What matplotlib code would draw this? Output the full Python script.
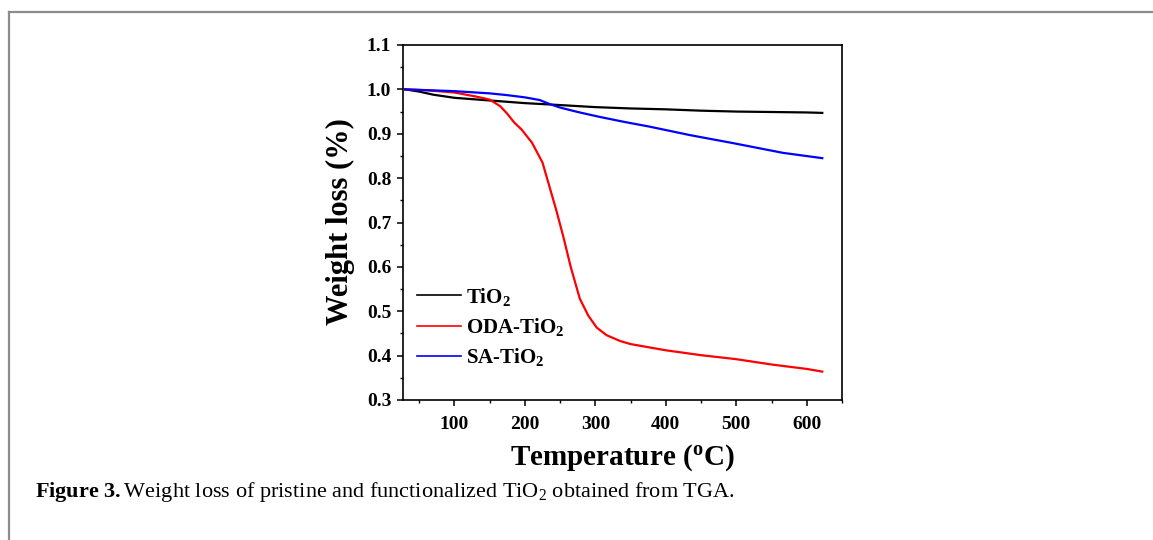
import matplotlib
matplotlib.use("Agg")
import matplotlib.pyplot as plt
from matplotlib.lines import Line2D
from matplotlib.ticker import MultipleLocator

plt.rcParams['font.family'] = ['Liberation Serif', 'DejaVu Serif']
plt.rcParams['mathtext.fontset'] = 'custom'
plt.rcParams['mathtext.rm'] = 'Liberation Serif:bold'
plt.rcParams['mathtext.bf'] = 'Liberation Serif:bold'
plt.rcParams['mathtext.it'] = 'Liberation Serif:bold:italic'
plt.rcParams['mathtext.sf'] = 'Liberation Serif'

# ---- data ----
tio2_temp = [30, 50, 70, 100, 125, 150, 200, 235, 300, 350, 400, 450, 500, 550, 600, 622]
tio2_wt = [1.0, 0.995, 0.988, 0.981, 0.978, 0.975, 0.969, 0.966, 0.960, 0.957, 0.955,
           0.952, 0.950, 0.949, 0.948, 0.947]

oda_temp = [30, 60, 100, 130, 150, 165, 175, 185, 195, 210, 225, 235, 245, 255, 265, 278,
            290, 302, 316, 335, 350, 400, 450, 500, 550, 600, 622]
oda_wt = [1.0, 0.998, 0.993, 0.984, 0.977, 0.962, 0.945, 0.925, 0.910, 0.880, 0.835, 0.780,
          0.725, 0.665, 0.600, 0.528, 0.490, 0.463, 0.446, 0.433, 0.426, 0.412, 0.401,
          0.392, 0.380, 0.370, 0.364]

sa_temp = [30, 100, 150, 175, 200, 221, 235, 250, 275, 306, 340, 377, 434, 495, 566, 622]
sa_wt = [1.0, 0.996, 0.991, 0.987, 0.982, 0.976, 0.967, 0.959, 0.949, 0.938, 0.927, 0.916,
         0.897, 0.879, 0.857, 0.845]

series_labels = ['TiO$_2$', 'ODA-TiO$_2$', 'SA-TiO$_2$']
series_colors = ['#000000', '#ff0000', '#0000ff']

x_ticks = [100, 200, 300, 400, 500, 600]
y_ticks = [0.3, 0.4, 0.5, 0.6, 0.7, 0.8, 0.9, 1.0, 1.1]

W, H = 1153, 540
fig = plt.figure(figsize=(W / 100, H / 100), dpi=100)
ax = fig.add_axes([403 / W, 1 - 400 / H, (842 - 403) / W, (400 - 45) / H])

for t, w, lab, c in zip([tio2_temp, oda_temp, sa_temp], [tio2_wt, oda_wt, sa_wt],
                        series_labels, series_colors):
    ax.plot(t, w, color=c, lw=1.6, label=lab)

ax.set_xlim(27, 650)
ax.set_ylim(0.3, 1.1)
ax.set_xticks(x_ticks)
ax.set_yticks(y_ticks)
ax.set_yticklabels([f"{v:.1f}" for v in y_ticks])
ax.xaxis.set_minor_locator(MultipleLocator(50))
ax.yaxis.set_minor_locator(MultipleLocator(0.05))
ax.tick_params(which='major', direction='out', length=4.5, width=1.1, labelsize=14)
ax.tick_params(axis='x', which='major', pad=7)
ax.tick_params(axis='y', which='major', pad=4)
ax.tick_params(which='minor', direction='out', length=2.5, width=1.0)
ax.tick_params(top=False, right=False, which='both')
for lab in ax.get_xticklabels() + ax.get_yticklabels():
    lab.set_fontweight('bold')
for s in ax.spines.values():
    s.set_linewidth(1.2)

leg = ax.legend(loc='upper left', bbox_to_anchor=(0.033, 0.322), frameon=False,
                prop={'family': 'Liberation Serif', 'weight': 'bold', 'size': 15},
                handlelength=2.1, handletextpad=0.25, labelspacing=0.4,
                borderpad=0, borderaxespad=0)
for l in leg.get_lines():
    l.set_linewidth(1.2)

fig.text(340 / W, 1 - 222 / H, 'Weight loss (%)', rotation=90, ha='center', va='center',
         fontsize=22, fontweight='bold')
fig.text(622 / W, 1 - 458 / H, r'Temperature ($^{\mathbf{o}}$C)', ha='center', va='center',
         fontsize=21, fontweight='bold')

fig.text(35 / W, 1 - 492 / H,
         r'$\mathbf{Figure\ 3.}$Weight loss of pristine and functionalized TiO$_\mathsf{2}$ obtained from TGA.',
         ha='left', va='center', fontsize=16)

fig.add_artist(Line2D([9 / W, 1.0], [1 - 12 / H, 1 - 12 / H], color='#8c8c8c', lw=1.6))
fig.add_artist(Line2D([9 / W, 9 / W], [0, 1 - 12 / H], color='#8c8c8c', lw=1.6))

fig.savefig('out.png', dpi=100)
